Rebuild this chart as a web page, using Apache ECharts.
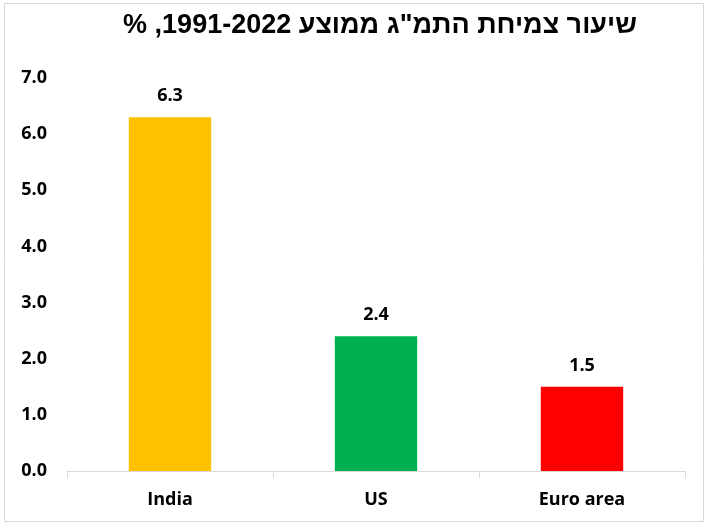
<!DOCTYPE html>
<html>
<head>
<meta charset="utf-8">
<script src="https://cdn.jsdelivr.net/npm/echarts@6/dist/echarts.min.js"></script>
<style>
  html, body { margin: 0; padding: 0; background: #fff; }
  #myChart { width: 709px; height: 526px; }
</style>
</head>
<body>
<div id="myChart"></div>
<script>
var categories = ['India', 'US', 'Euro area'];
var values = [6.3, 2.4, 1.5];
var barColors = ['#FFC000', '#00B050', '#FF0000'];
var titleText = 'שיעור צמיחת התמ"ג ממוצע 1991-2022, %';

window.onload = function () {
    'use strict';

    var labelFont = 'Open Sans';

    var option = {
        animation: false,
        title: {
            // RLE ... PDF so the Hebrew line reads right to left
            text: '\u202B' + titleText + '\u202C',
            left: 375,
            textAlign: 'center',
            top: 7,
            textStyle: {
                fontFamily: 'Liberation Sans',
                fontSize: 27,
                fontWeight: 'bold',
                color: '#000'
            }
        },
        graphic: [{
            type: 'rect',
            shape: { x: 4.5, y: 3.5, width: 699, height: 518 },
            style: { fill: 'none', stroke: '#d9d9d9', lineWidth: 1 },
            silent: true
        }],
        grid: {
            left: 67,
            right: 24,
            top: 78,
            bottom: 55
        },
        xAxis: {
            type: 'category',
            data: categories,
            axisLine: { lineStyle: { color: '#d9d9d9', width: 1 } },
            axisTick: { show: true, length: 7, lineStyle: { color: '#d9d9d9' } },
            axisLabel: {
                margin: 20,
                fontFamily: labelFont,
                fontSize: 18,
                fontWeight: 'bold',
                color: '#000'
            }
        },
        yAxis: {
            type: 'value',
            min: 0,
            max: 7,
            interval: 1,
            splitLine: { show: false },
            axisLine: { show: false },
            axisTick: { show: false },
            axisLabel: {
                margin: 20,
                fontFamily: labelFont,
                fontSize: 18,
                fontWeight: 'bold',
                color: '#000',
                formatter: function (v) { return v.toFixed(1); }
            }
        },
        series: [{
            type: 'bar',
            barWidth: '40%',
            data: values.map(function (v, i) {
                return { value: v, itemStyle: { color: barColors[i] } };
            }),
            label: {
                show: true,
                position: 'top',
                distance: 12,
                fontFamily: labelFont,
                fontSize: 18,
                fontWeight: 'bold',
                color: '#000',
                formatter: function (p) { return p.value.toFixed(1); }
            }
        }]
    };

    var myChart = echarts.init(document.getElementById('myChart'));
    myChart.setOption(option);
};
</script>
</body>
</html>
